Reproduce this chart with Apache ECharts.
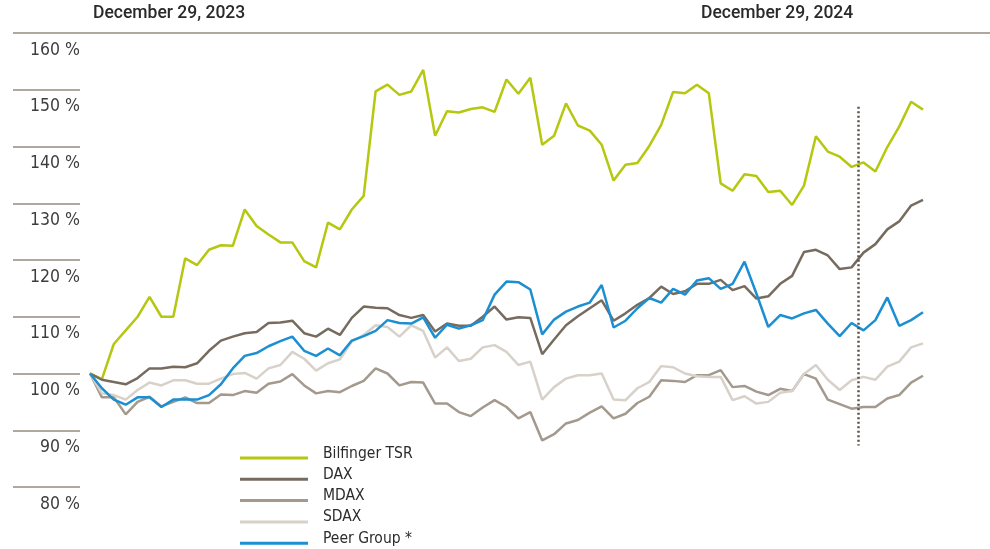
<!DOCTYPE html>
<html>
<head>
<meta charset="utf-8">
<title>Bilfinger TSR</title>
<script src="https://cdn.jsdelivr.net/npm/echarts@6/dist/echarts.min.js"></script>
<style>
html, body { margin: 0; padding: 0; background: #fff; }
#main { width: 990px; height: 549px; }
</style>
</head>
<body>
<div id="main"></div>
<script>
// weekly index values, start = 100
var bilfinger = [100, 99.0, 105.2, 107.6, 110, 113.5, 110, 110, 120.3, 119.1, 121.8, 122.6,
	122.5, 128.9, 126, 124.5, 123.1, 123.1, 119.8, 118.7, 126.6, 125.4, 128.9, 131.3,
	149.7, 150.9, 149.1, 149.7, 153.5, 141.9, 146.2, 146, 146.6, 146.9, 146.1, 151.8,
	149.3, 152.1, 140.3, 141.9, 147.6, 143.7, 142.8, 140.3, 134, 136.8, 137.1, 140.1,
	143.8, 149.6, 149.4, 150.9, 149.4, 133.5, 132.2, 135.1, 134.8, 132, 132.2,
	129.7, 133.1, 141.8, 139.1, 138.2, 136.4, 137.2, 135.6, 139.9, 143.5, 147.9, 146.5];

var dax = [100, 98.9, 98.5, 98.1, 99.2, 100.9, 100.9, 101.2, 101.1, 101.8, 104, 105.8,
	106.5, 107.1, 107.3, 108.9, 109, 109.3, 107.1, 106.5, 107.9, 106.8, 109.8, 111.8,
	111.6, 111.5, 110.3, 109.8, 110.3, 107.4, 108.8, 108.4, 108.4, 110, 111.8, 109.5,
	109.9, 109.8, 103.4, 106, 108.5, 110.1, 111.5, 112.9, 109.3, 110.6, 112.1, 113.3,
	115.3, 114, 114.5, 115.8, 115.8, 116.5, 114.7, 115.4, 113.2, 113.6, 115.8,
	117.2, 121.4, 121.8, 120.8, 118.4, 118.7, 121.3, 122.8, 125.4, 126.8, 129.6, 130.6];

var mdax = [100, 95.8, 95.8, 92.8, 95, 95.9, 94.2, 95, 95.8, 94.8, 94.8, 96.3,
	96.2, 96.9, 96.6, 98.2, 98.6, 99.9, 97.9, 96.5, 96.9, 96.7, 97.8, 98.7,
	100.9, 100, 97.9, 98.5, 98.4, 94.7, 94.7, 93.2, 92.5, 94, 95.3, 94.1,
	92.1, 93.2, 88.2, 89.3, 91.2, 91.8, 93.1, 94.2, 92.1, 92.9, 94.8, 95.9,
	98.8, 98.7, 98.5, 99.7, 99.7, 100.6, 97.6, 97.8, 96.8, 96.2, 97.3,
	96.9, 99.9, 99.1, 95.4, 94.6, 93.8, 94.1, 94.1, 95.6, 96.2, 98.4, 99.6];

var sdax = [100, 96.5, 96.2, 95.4, 97.1, 98.4, 97.9, 98.8, 98.8, 98.2, 98.2, 99.1,
	99.9, 100.1, 99.1, 100.9, 101.5, 103.8, 102.6, 100.5, 101.8, 102.5, 105.6, 106.8,
	108.5, 108.2, 106.5, 108.5, 107.5, 102.8, 104.6, 102.2, 102.6, 104.6, 105, 103.8,
	101.5, 102.1, 95.4, 97.6, 99.1, 99.7, 99.7, 100, 95.4, 95.3, 97.4, 98.5,
	101.3, 101.1, 100, 99.5, 99.4, 99.4, 95.3, 96, 94.7, 95, 96.6,
	96.9, 99.9, 101.5, 98.9, 97.1, 98.8, 99.4, 98.9, 101.2, 102.1, 104.6, 105.3];

var peer = [100, 97.4, 95.4, 94.5, 95.8, 95.8, 94.1, 95.4, 95.4, 95.4, 96.2, 98.1,
	100.9, 103.1, 103.6, 104.8, 105.7, 106.5, 104, 103.1, 104.4, 103.2, 105.8, 106.6,
	107.5, 109.4, 108.9, 108.8, 109.9, 106.3, 108.6, 107.9, 108.5, 109.4, 113.9, 116.2,
	116.1, 114.8, 106.9, 109.5, 110.9, 111.8, 112.5, 115.6, 108.1, 109.3, 111.5, 113.3,
	112.5, 114.9, 113.9, 116.4, 116.8, 114.9, 115.8, 119.7, 114.1, 108.2, 110.3,
	109.7, 110.6, 111.2, 108.8, 106.6, 108.9, 107.6, 109.4, 113.4, 108.4, 109.4, 110.8];

var series_names = ["Bilfinger TSR", "DAX", "MDAX", "SDAX", "Peer Group *"];
var series_colors = ["#b5c70f", "#776b5f", "#a3998d", "#d7d1c9", "#1b8fd2"];
var header_labels = ["December 29, 2023", "December 29, 2024"];

// dotted marker between two weeks
var marker_week = 64.55;
var marker_range = [147, 87.3];

var narrow = "'Liberation Sans Narrow', 'DejaVu Sans Condensed', 'Roboto', sans-serif";
var rule_color = "#b1a89d";

function toPoints(arr) {
	return arr.map(function (v, i) { return [i, v]; });
}

function makeSeries(name, color, data) {
	return {
		name: name,
		type: "line",
		xAxisIndex: 0,
		yAxisIndex: 0,
		data: toPoints(data),
		symbol: "none",
		smooth: false,
		animation: false,
		lineStyle: { color: color, width: 2.5 },
		itemStyle: { color: color }
	};
}

var all_data = [bilfinger, dax, mdax, sdax, peer];
var series_list = [];
for (var i = 0; i < all_data.length; i++) {
	series_list.push(makeSeries(series_names[i], series_colors[i], all_data[i]));
}

// dotted vertical line
series_list[4].markLine = {
	silent: true,
	symbol: "none",
	label: { show: false },
	lineStyle: { color: "#5e5249", type: [2, 2.5], width: 2.5 },
	data: [[{ coord: [marker_week, marker_range[0]] }, { coord: [marker_week, marker_range[1]] }]]
};

var myChart = echarts.init(document.getElementById("main"), null, { renderer: "canvas" });

var option = {
	backgroundColor: "#fff",
	animation: false,
	grid: [
		{ left: 90, right: 67, top: 33, bottom: 62 },
		{ left: 13, width: 67, top: 33, bottom: 62 }
	],
	xAxis: [
		{ type: "value", gridIndex: 0, min: 0, max: 70, show: false },
		{ type: "value", gridIndex: 1, min: 0, max: 1, show: false }
	],
	yAxis: [
		{ type: "value", gridIndex: 0, min: 80, max: 160, show: false },
		{
			type: "value",
			gridIndex: 1,
			position: "right",
			min: 80,
			max: 160,
			interval: 10,
			axisLine: { show: false },
			axisTick: { show: false },
			splitLine: { show: true, lineStyle: { color: rule_color, width: 2 } },
			axisLabel: {
				inside: true,
				margin: 0,
				verticalAlign: "top",
				padding: [8, 0, 0, 0],
				fontFamily: narrow,
				fontSize: 17.5,
				color: "#3d3d3d",
				formatter: "{value} %"
			}
		}
	],
	legend: {
		orient: "vertical",
		left: 240,
		top: 443,
		height: 140,
		padding: 0,
		itemGap: 0.3,
		itemWidth: 78,
		itemHeight: 12,
		icon: "path://M0,0L0,0M0,9L68,9L68,12L0,12ZM78,0L78,0",
		itemStyle: { borderWidth: 0 },
		data: series_names,
		textStyle: {
			fontFamily: narrow,
			fontSize: 15.5,
			lineHeight: 21,
			color: "#2c2c2c"
		}
	},
	graphic: [
		{
			type: "line",
			silent: true,
			shape: { x1: 13, y1: 33, x2: 990, y2: 33 },
			style: { stroke: rule_color, lineWidth: 2 },
			z: 10
		},
		{
			type: "text",
			left: 93,
			top: 5,
			style: {
				text: header_labels[0],
				font: "500 17.5px Roboto, 'Liberation Sans', sans-serif",
				fill: "#2a2a2a"
			}
		},
		{
			type: "text",
			left: 701,
			top: 5,
			style: {
				text: header_labels[1],
				font: "500 17.5px Roboto, 'Liberation Sans', sans-serif",
				fill: "#2a2a2a"
			}
		}
	],
	series: series_list
};

myChart.setOption(option);
</script>
</body>
</html>
